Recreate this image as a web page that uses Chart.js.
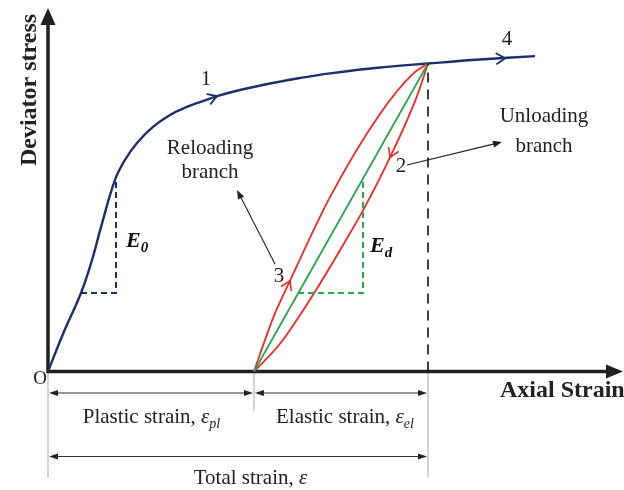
<!DOCTYPE html>
<html><head><meta charset="utf-8">
<script src="https://cdn.jsdelivr.net/npm/chart.js@4/dist/chart.umd.min.js"></script>
<style>html,body{margin:0;padding:0;background:#fff;overflow:hidden}canvas{display:block}</style>
</head><body>
<canvas id="c" width="624" height="490"></canvas>
<script>
// ---- data (axial strain / deviator stress, arbitrary units: peak = 100,100) ----
const mainStrain   = [0, 3.95, 8.68, 11.58, 13.95, 17.63, 20.26, 23.42, 27.63, 32.11, 36.58, 40.79, 44.47, 50.53, 58.42, 66.32, 74.21, 87.37, 100, 113.68, 128.16];
const mainStress   = [0, 12.2, 25.5, 36.2, 46.9, 62.2, 68.7, 74.2, 79.4, 83.3, 85.9, 87.8, 89.4, 91.4, 93.5, 95.3, 96.8, 98.7, 100, 101.3, 102.4];
const reloadStrain = [54.2, 59.3, 63.7, 74.2, 87.4, 96.1, 100];
const reloadStress = [0, 17.6, 29.5, 56.6, 83.7, 96.7, 100];
const unloadStrain = [54.2, 61.1, 70.0, 76.8, 82.9, 90.0, 97.0, 100];
const unloadStress = [0, 9.1, 25.4, 39.3, 52.3, 69.5, 89.1, 100];
const secantStrain = [54.2, 100];
const secantStress = [0, 100];
const e0Strain = [8.68, 17.9, 17.9];
const e0Stress = [25.5, 25.5, 62.2];
const edStrain = [65.8, 82.9, 82.9];
const edStress = [25.5, 25.5, 62.2];
const peakStrain = [100, 100];
const peakStress = [0, 100];
const plasticStrainEnd = 54.2;
const totalStrainEnd = 100;

const pts = (xs, ys) => xs.map((x, i) => ({x, y: ys[i]}));

const NAVY = '#1c2f6b', RED = '#ee2a27', GREEN = '#2aa64c', INK = '#231f20';
const SERIF = '"Liberation Serif", "Times New Roman", serif';

function chevron(ctx, tip, from, color, len, lw) {
  const a = Math.atan2(tip[1] - from[1], tip[0] - from[0]);
  ctx.save();
  ctx.strokeStyle = color; ctx.lineWidth = lw; ctx.lineCap = 'round'; ctx.lineJoin = 'miter';
  ctx.beginPath();
  ctx.moveTo(tip[0] - len * Math.cos(a - 0.55), tip[1] - len * Math.sin(a - 0.55));
  ctx.lineTo(tip[0], tip[1]);
  ctx.lineTo(tip[0] - len * Math.cos(a + 0.55), tip[1] - len * Math.sin(a + 0.55));
  ctx.stroke();
  ctx.restore();
}
function solidHead(ctx, tip, from, color, len, half) {
  const a = Math.atan2(tip[1] - from[1], tip[0] - from[0]);
  const bx = tip[0] - len * Math.cos(a), by = tip[1] - len * Math.sin(a);
  ctx.save();
  ctx.fillStyle = color;
  ctx.beginPath();
  ctx.moveTo(tip[0], tip[1]);
  ctx.lineTo(bx + half * Math.sin(a), by - half * Math.cos(a));
  ctx.lineTo(bx - half * Math.sin(a), by + half * Math.cos(a));
  ctx.closePath(); ctx.fill();
  ctx.restore();
}
function arrowLine(ctx, from, tip, color, lw, len, half) {
  const a = Math.atan2(tip[1] - from[1], tip[0] - from[0]);
  ctx.save();
  ctx.strokeStyle = color; ctx.lineWidth = lw;
  ctx.beginPath(); ctx.moveTo(from[0], from[1]);
  ctx.lineTo(tip[0] - (len - 1) * Math.cos(a), tip[1] - (len - 1) * Math.sin(a)); ctx.stroke();
  ctx.restore();
  solidHead(ctx, tip, from, color, len, half);
}
// text with italic symbol and subscript, centered at cx
function subText(ctx, cx, y, plain, sym, sub, size, color) {
  ctx.save();
  ctx.fillStyle = color; ctx.textBaseline = 'alphabetic'; ctx.textAlign = 'left';
  const f1 = size + 'px ' + SERIF, f2 = 'italic ' + size + 'px ' + SERIF, f3 = 'italic ' + Math.round(size * 0.68) + 'px ' + SERIF;
  ctx.font = f1; const w1 = ctx.measureText(plain).width;
  ctx.font = f2; const w2 = ctx.measureText(sym).width;
  ctx.font = f3; const w3 = sub ? ctx.measureText(sub).width : 0;
  let x = cx - (w1 + w2 + w3) / 2;
  ctx.font = f1; ctx.fillText(plain, x, y); x += w1;
  ctx.font = f2; ctx.fillText(sym, x, y); x += w2;
  if (sub) { ctx.font = f3; ctx.fillText(sub, x, y + 5); }
  ctx.restore();
}

const decor = {
  id: 'decor',
  beforeDatasetsDraw(chart) {
    const {ctx, chartArea} = chart;
    const X = v => chart.scales.x.getPixelForValue(v), Y = v => chart.scales.y.getPixelForValue(v);
    const ox = X(0), oy = Y(0);
    // grey extension lines
    ctx.save();
    ctx.strokeStyle = '#b9b9b9'; ctx.lineWidth = 1.2;
    ctx.beginPath();
    ctx.moveTo(ox, oy); ctx.lineTo(ox, oy + 106);
    ctx.moveTo(X(plasticStrainEnd), oy); ctx.lineTo(X(plasticStrainEnd), oy + 40);
    ctx.moveTo(X(totalStrainEnd), oy); ctx.lineTo(X(totalStrainEnd), oy + 106);
    ctx.stroke();
    ctx.restore();
    // dimension arrows
    const r1 = oy + 21.5, r2 = oy + 85;
    const dim = (a, b, y) => {
      ctx.save(); ctx.strokeStyle = '#333'; ctx.lineWidth = 1;
      ctx.beginPath(); ctx.moveTo(a + 6, y); ctx.lineTo(b - 6, y); ctx.stroke(); ctx.restore();
      solidHead(ctx, [a + 1, y], [a + 20, y], '#222', 9, 3);
      solidHead(ctx, [b - 1, y], [b - 20, y], '#222', 9, 3);
    };
    dim(ox, X(plasticStrainEnd), r1);
    dim(X(plasticStrainEnd), X(totalStrainEnd), r1);
    dim(ox, X(totalStrainEnd), r2);
    // axes
    ctx.save();
    ctx.strokeStyle = INK; ctx.lineWidth = 3.5; ctx.lineCap = 'butt';
    ctx.beginPath();
    ctx.moveTo(ox, oy + 1.5); ctx.lineTo(ox, chartArea.top + 22);
    ctx.moveTo(ox - 1.7, oy); ctx.lineTo(chartArea.right - 16, oy);
    ctx.stroke();
    ctx.restore();
    solidHead(ctx, [ox, chartArea.top + 8], [ox, oy], INK, 17, 7.5);
    solidHead(ctx, [chartArea.right - 1, oy], [ox, oy], INK, 17, 7);
  },
  afterDatasetsDraw(chart) {
    const {ctx} = chart;
    const X = v => chart.scales.x.getPixelForValue(v), Y = v => chart.scales.y.getPixelForValue(v);
    const P = (x, y) => [X(x), Y(y)];
    // direction chevrons on curves
    chevron(ctx, P(mainStrain[12], mainStress[12]), P(mainStrain[11], mainStress[11]), NAVY, 10, 1.8);
    chevron(ctx, P(120.3, 101.7), P(mainStrain[19], mainStress[19]), NAVY, 10, 1.8);
    chevron(ctx, P(reloadStrain[2], reloadStress[2]), P(reloadStrain[1], reloadStress[1]), RED, 10, 1.6);
    chevron(ctx, P(unloadStrain[5], unloadStress[5]), P(unloadStrain[6], unloadStress[6]), RED, 10, 1.6);
    // pointer arrows
    arrowLine(ctx, [275, 264], [237, 190], '#222', 1.1, 9, 3.5);
    arrowLine(ctx, [407, 165], [502, 142], '#222', 1.1, 9, 3.5);

    ctx.save();
    ctx.fillStyle = '#222';
    ctx.textAlign = 'center'; ctx.textBaseline = 'alphabetic';
    ctx.font = '21px ' + SERIF;
    ctx.fillText('1', 206, 85);
    ctx.fillText('4', 507, 45);
    ctx.fillText('2', 401, 172);
    ctx.fillText('3', 279, 282);
    ctx.fillText('Reloading', 210, 154);
    ctx.fillText('branch', 210, 178);
    ctx.fillText('Unloading', 544, 122);
    ctx.fillText('branch', 544, 152);
    ctx.font = '19px ' + SERIF;
    ctx.fillText('O', 40, 384);
    // axis titles
    ctx.font = 'bold 24px ' + SERIF;
    ctx.textAlign = 'left';
    ctx.fillText('Axial Strain', 500, 397);
    ctx.save();
    ctx.translate(36, 90); ctx.rotate(-Math.PI / 2);
    ctx.textAlign = 'center';
    ctx.fillText('Deviator stress', 0, 0);
    ctx.restore();
    // moduli
    ctx.textAlign = 'left';
    ctx.fillStyle = '#111';
    ctx.font = 'bold italic 22px ' + SERIF;
    ctx.fillText('E', 126, 247);
    let w = ctx.measureText('E').width;
    ctx.font = 'bold italic 15px ' + SERIF;
    ctx.fillText('0', 126 + w, 252);
    ctx.font = 'bold italic 22px ' + SERIF;
    ctx.fillText('E', 370, 252);
    w = ctx.measureText('E').width;
    ctx.font = 'bold italic 15px ' + SERIF;
    ctx.fillText('d', 370 + w, 257);
    ctx.restore();
    // strain labels
    subText(ctx, (X(0) + X(plasticStrainEnd)) / 2 + 0.5, 423, 'Plastic strain, ', 'ε', 'pl', 21, '#222');
    subText(ctx, (X(plasticStrainEnd) + X(totalStrainEnd)) / 2 + 4, 423, 'Elastic strain, ', 'ε', 'el', 21, '#222');
    subText(ctx, 250.5, 484, 'Total strain, ', 'ε', '', 21, '#222');
  }
};

const line = (data, color, w, extra) => Object.assign({
  data, borderColor: color, borderWidth: w, pointRadius: 0, showLine: true, fill: false
}, extra || {});

new Chart(document.getElementById('c'), {
  type: 'scatter',
  data: {
    datasets: [
      line(pts(peakStrain, peakStress), '#111', 1.6, {borderDash: [10, 7]}),
      line(pts(e0Strain, e0Stress), NAVY, 2, {borderDash: [6, 4]}),
      line(pts(edStrain, edStress), GREEN, 2, {borderDash: [6, 4]}),
      line(pts(secantStrain, secantStress), GREEN, 1.8),
      line(pts(reloadStrain, reloadStress), RED, 1.8, {cubicInterpolationMode: 'monotone'}),
      line(pts(unloadStrain, unloadStress), RED, 1.8, {cubicInterpolationMode: 'monotone'}),
      line(pts(mainStrain, mainStress), NAVY, 2.4, {tension: 0.4})
    ]
  },
  options: {
    responsive: false,
    animation: false,
    devicePixelRatio: 1,
    layout: {padding: 0},
    plugins: {legend: {display: false}, tooltip: {enabled: false}},
    scales: {
      x: {type: 'linear', display: false, min: -48 / 3.8, max: 576 / 3.8},
      y: {type: 'linear', display: false, min: -118.5 / 3.08, max: 371.5 / 3.08}
    }
  },
  plugins: [decor]
});
</script>
</body></html>
